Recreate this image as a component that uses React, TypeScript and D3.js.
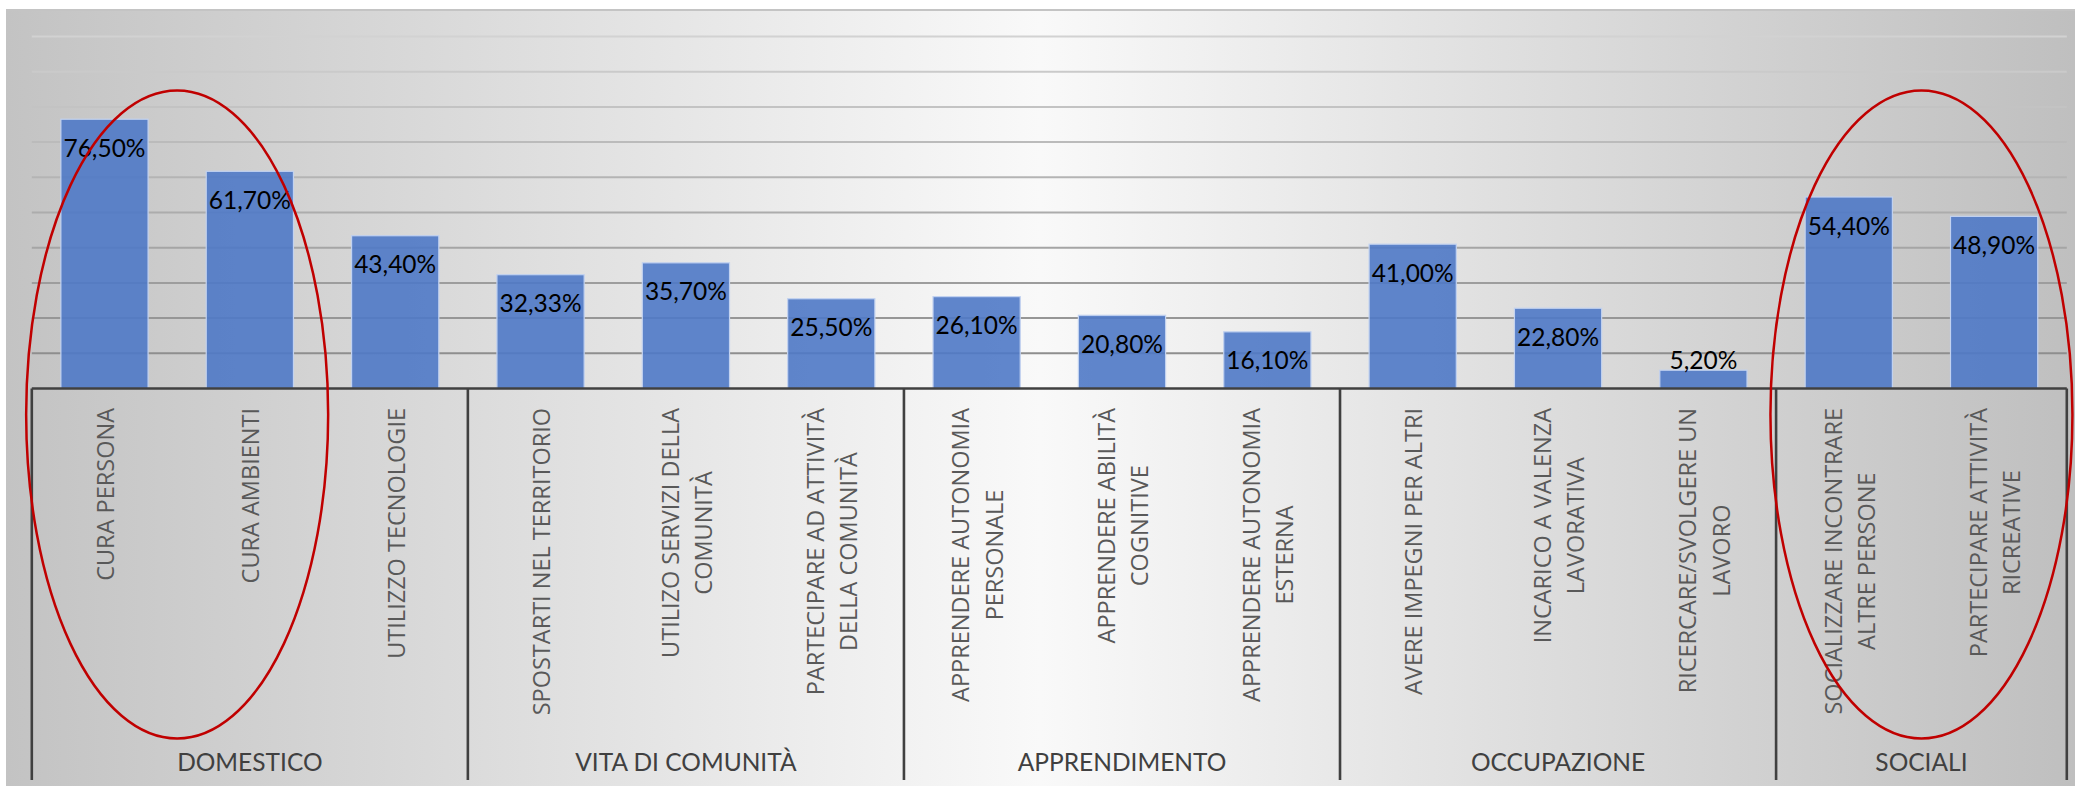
import React, { useMemo } from "react";
import * as d3 from "d3";

const categories: string[][] = [
  ["CURA PERSONA"],
  ["CURA AMBIENTI"],
  ["UTILIZZO TECNOLOGIE"],
  ["SPOSTARTI NEL TERRITORIO"],
  ["UTILIZO SERVIZI DELLA", "COMUNITÀ"],
  ["PARTECIPARE AD ATTIVITÀ", "DELLA COMUNITÀ"],
  ["APPRENDERE AUTONOMIA", "PERSONALE"],
  ["APPRENDERE ABILITÀ", "COGNITIVE"],
  ["APPRENDERE AUTONOMIA", "ESTERNA"],
  ["AVERE IMPEGNI PER ALTRI"],
  ["INCARICO A VALENZA", "LAVORATIVA"],
  ["RICERCARE/SVOLGERE UN", "LAVORO"],
  ["SOCIALIZZARE INCONTRARE", "ALTRE PERSONE"],
  ["PARTECIPARE ATTIVITÀ", "RICREATIVE"],
];

const values: number[] = [76.5, 61.7, 43.4, 32.33, 35.7, 25.5, 26.1, 20.8, 16.1, 41.0, 22.8, 5.2, 54.4, 48.9];

const groups: string[] = ["DOMESTICO", "VITA DI COMUNITÀ", "APPRENDIMENTO", "OCCUPAZIONE", "SOCIALI"];
const groupSizes: number[] = [3, 3, 3, 3, 2];

const gridTicks: number[] = [10, 20, 30, 40, 50, 60, 70, 80, 90, 100];

// highlighted groups (indices of first and last category circled)
const highlights: [number, number][] = [
  [0, 1],
  [12, 13],
];

const W = 2075;
const H = 786;

const catFont = "23.5px 'Open Sans'";
const CAT_FONT_SIZE = 23.5;

export default function App() {
  const x = d3
    .scaleBand<number>()
    .domain(d3.range(values.length))
    .range([31.8, 2066.8])
    .paddingInner(0.4)
    .paddingOuter(0.2);
  const step = x.step();
  const y = d3.scaleLinear().domain([0, 100]).range([388.5, 36.5]);
  const gridColor = d3.scaleLinear<string>().domain([100, 10]).range(["#d2d2d2", "#8e8e8e"]);
  const fmt = (v: number) => d3.format(".2f")(v).replace(".", ",") + "%";

  const measure = useMemo(() => {
    const c = document.createElement("canvas");
    const ctx = c.getContext("2d")!;
    ctx.font = catFont;
    return (s: string) => ctx.measureText(s).width;
  }, []);

  const axisY = y(0);
  const bandStart = (i: number) => (x(i) as number) - step * 0.2;
  const groupBounds: { start: number; end: number; name: string }[] = [];
  let acc = 0;
  groupSizes.forEach((n, gi) => {
    const start = bandStart(acc);
    const end = bandStart(acc) + n * step;
    groupBounds.push({ start, end, name: groups[gi] });
    acc += n;
  });

  const labelTop = 408;
  const lineGap = 33.3;

  return (
    <svg
      width={W}
      height={H}
      style={{ position: "absolute", left: 0, top: 0, display: "block" }}
    >
      <defs>
        <linearGradient id="bg" x1="0" x2="1" y1="0" y2="0">
          <stop offset="0" stopColor="#c3c3c3" />
          <stop offset="0.5" stopColor="#f9f9f9" />
          <stop offset="1" stopColor="#bfbfbf" />
        </linearGradient>
      </defs>
      <rect x={0} y={0} width={W} height={H} fill="#ffffff" />
      <rect x={6} y={10} width={W - 6} height={H - 10} fill="url(#bg)" />
      <line x1={6} x2={W} y1={10} y2={10} stroke="#c4c4c4" strokeWidth={2} />

      {/* gridlines */}
      {gridTicks.map((t) => (
        <line
          key={t}
          x1={31.8}
          x2={2066.8}
          y1={y(t)}
          y2={y(t)}
          stroke={gridColor(t)}
          strokeWidth={2}
        />
      ))}

      {/* bars */}
      {values.map((v, i) => (
        <rect
          key={i}
          x={x(i)}
          y={y(v)}
          width={x.bandwidth()}
          height={axisY - y(v)}
          fill="#4f79c6"
          fillOpacity={0.9}
          stroke="#c2d2f0"
          strokeWidth={1.2}
        />
      ))}

      {/* value labels */}
      {values.map((v, i) => {
        const top = y(v);
        const inside = axisY - top > 45;
        return (
          <text
            key={i}
            x={(x(i) as number) + x.bandwidth() / 2}
            y={inside ? top + 37.5 : top - 1}
            textAnchor="middle"
            fontFamily="Lato, 'Open Sans', sans-serif"
            fontSize={24.5}
            fill="#000000"
          >
            {fmt(v)}
          </text>
        );
      })}

      {/* axis line */}
      <line x1={31.8} x2={2066.8} y1={axisY} y2={axisY} stroke="#404040" strokeWidth={2.6} />
      {/* group dividers */}
      {[...groupBounds.map((g) => g.start), groupBounds[groupBounds.length - 1].end].map((gx, i) => (
        <line key={i} x1={gx} x2={gx} y1={axisY} y2={780} stroke="#404040" strokeWidth={2.6} />
      ))}

      {/* category labels */}
      {categories.map((lines, i) => {
        const cx = (x(i) as number) + x.bandwidth() / 2;
        const maxLen = d3.max(lines, (l) => measure(l)) || 0;
        const n = lines.length;
        return (
          <g key={i} transform={`translate(${cx},${labelTop}) rotate(-90)`}>
            {lines.map((l, li) => (
              <text
                key={li}
                x={-maxLen / 2}
                y={9.5 + (li - (n - 1) / 2) * lineGap}
                textAnchor="middle"
                fontFamily="'Open Sans', sans-serif"
                fontSize={CAT_FONT_SIZE}
                fill="#595959"
              >
                {l}
              </text>
            ))}
          </g>
        );
      })}

      {/* group labels */}
      {groupBounds.map((g, i) => (
        <text
          key={i}
          x={(g.start + g.end) / 2}
          y={770.7}
          textAnchor="middle"
          fontFamily="Lato, 'Open Sans', sans-serif"
          fontSize={24.5}
          fill="#404040"
        >
          {g.name}
        </text>
      ))}

      {/* red highlight ellipses */}
      {highlights.map(([a, b], i) => {
        const cx = ((x(a) as number) + (x(b) as number) + x.bandwidth()) / 2;
        return (
          <ellipse
            key={i}
            cx={cx}
            cy={414.5}
            rx={151}
            ry={324}
            fill="none"
            stroke="#c00000"
            strokeWidth={2.5}
          />
        );
      })}
    </svg>
  );
}
